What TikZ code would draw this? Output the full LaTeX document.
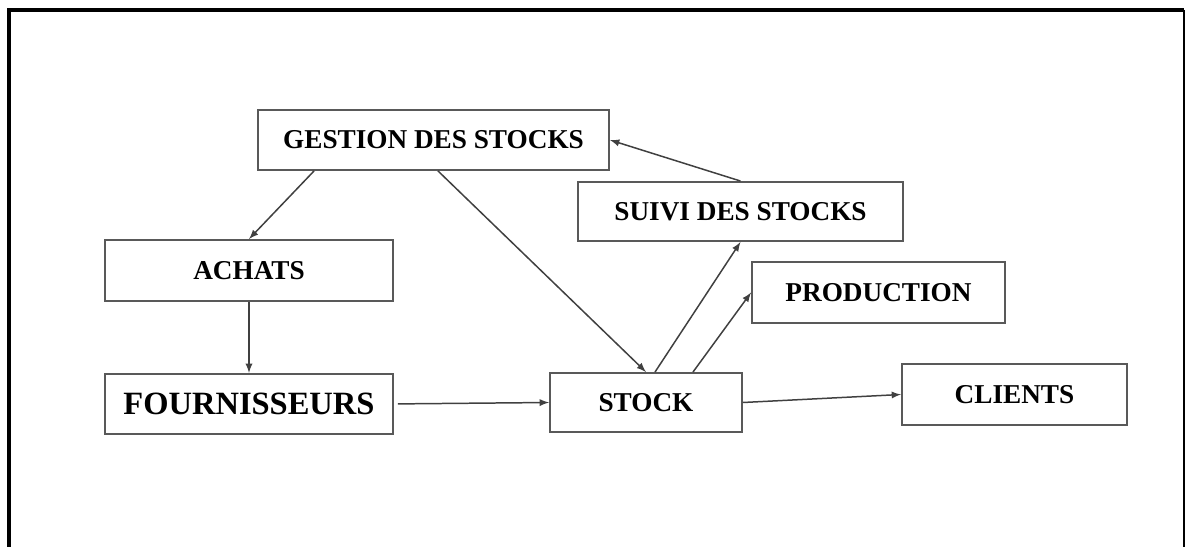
\documentclass[tikz,border=0pt]{standalone}
\usepackage{fontspec}
\setmainfont{Liberation Serif}
\usepackage{tikz}
\usetikzlibrary{arrows,positioning}

\begin{document}
\begin{tikzpicture}[x=0.02cm, y=-0.02cm,
    main/.style = {draw=black!65, line width=1.1pt, inner sep=0pt, font=\bfseries\fontsize{15.5}{18}\selectfont},
    link/.style = {->, >=latex, draw=black!75, line width=0.85pt}]
            \useasboundingbox (0,0) rectangle (1186,547);
            \clip (0,0) rectangle (1186,547);

            % Frame
            \draw[line width=2.6pt] (9,560) -- (9,10) -- (1184,10);
            \draw[line width=0.9pt] (1184,10) -- (1184,560);

            % Nodes
            \node[main, minimum width=7.02cm, minimum height=1.2cm] (gestion) at (433.5,140) {GESTION DES STOCKS};
            \node[main, minimum width=6.5cm, minimum height=1.18cm] (suivi) at (740.5,211.5) {SUIVI DES STOCKS};
            \node[main, minimum width=5.06cm, minimum height=1.22cm] (production) at (878.5,292.5) {PRODUCTION};
            \node[main, minimum width=5.76cm, minimum height=1.22cm] (achats) at (249,270.5) {ACHATS};
            \node[main, minimum width=5.76cm, minimum height=1.2cm, font=\bfseries\fontsize{18.5}{21}\selectfont] (fournisseurs) [below=1.42cm of achats] {FOURNISSEURS};
            \node[main, minimum width=3.84cm, minimum height=1.18cm] (stock) at (646,402.5) {STOCK};
            \node[main, minimum width=4.5cm, minimum height=1.22cm] (clients) at (1014.5,394.5) {CLIENTS};

            % Lines
            \draw[link] ([xshift=-2.39cm]gestion.south) -- (achats.north);
            \draw[link] ([xshift=0.09cm]gestion.south) -- (stock.north);
            \draw[link] (suivi.north) -- (gestion.east);
            \draw[link] ([xshift=0.18cm]stock.north) -- (suivi.south);
            \draw[link] ([xshift=0.94cm]stock.north) -- (production.west);
            \draw[link] (achats.south) -- (fournisseurs.north);
            \draw[link] ([xshift=0.08cm]fournisseurs.east) -- (stock.west);
            \draw[link] (stock.east) -- (clients.west);

\end{tikzpicture}
\end{document}
